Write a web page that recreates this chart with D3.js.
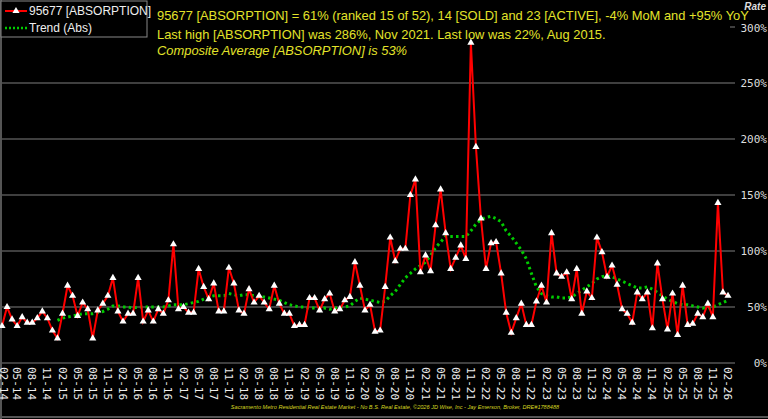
<!DOCTYPE html>
<html><head><meta charset="utf-8">
<script src="https://cdn.jsdelivr.net/npm/d3@7"></script>
<style>body{margin:0;background:#000}svg{display:block}</style>
</head><body>
<svg id="c" width="768" height="419"></svg>
<script>
const startMonth = "2014-02";
const absorption = [33,50,39,33,41,36,36,40,46,40,29,22,44,69,60,42,54,48,22,47,53,60,76,46,37,44,44,76,37,47,37,48,44,56,106,48,50,45,
45,84,68,57,71,46,46,85,71,47,44,66,54,60,54,48,69,53,44,44,33,34,34,58,58,47,57,62,46,48,56,59,90,69,47,52,28,29,68,112,91,102,102,150,164,81,96,82,123,155,116,84,94,105,93,286,193,129,84,107,108,80,45,27,40,53,34,34,55,69,54,116,80,77,81,57,84,44,64,58,112,99,77,87,70,48,44,36,63,57,63,31,89,57,30,62,25,69,34,35,44,41,53,41,143,63,60];
const trendStart = 11;
const trend = [38,40,41,42,43,44,44,44,45,46,48,51,51,50,50,49,50,50,50,50,50,50,51,52,52,52,53,54,55,57,59,60,60,60,62,61,60,61,61,60,59,59,58,57,56,54,52,51,50,50,49,49,49,49,48,49,50,50,51,55,58,57,56,55,54,55,60,64,70,76,80,84,87,90,96,103,108,113,113,113,113,113,118,124,128,130,131,129,126,118,113,107,101,93,80,68,62,60,59,59,58,58,59,62,65,68,71,75,77,78,77,75,73,71,69,67,67,68,66,63,60,57,55,53,52,52,51,50,49,49,50,52,54,56];
const yTicks = [0,50,100,150,200,250,300];
const titleLines = ["95677 [ABSORPTION] = 61% (ranked 15 of 52), 14 [SOLD] and 23 [ACTIVE], -4% MoM and +95% YoY",
 "Last high [ABSORPTION] was 286%, Nov 2021. Last low was 22%, Aug 2015.",
 "Composite Average [ABSORPTION] is 53%"];
const footer = "Sacramento Metro Residential Real Estate Market - No B.S. Real Estate, ©2026 JD Wise, Inc - Jay Emerson, Broker, DRE#1788488";

const svg = d3.select("#c");
const x = d3.scaleLinear().domain([0, absorption.length-1]).range([2, 728]);
const y = d3.scaleLinear().domain([0,300]).range([363, 27]);
const mono = "DejaVu Sans Mono";

svg.append("rect").attr("width",768).attr("height",419).attr("fill","#000");
// grid
svg.selectAll(".g").data(yTicks).join("line")
  .attr("x1",d=>d===300?730:0).attr("x2",735).attr("y1",d=>y(d)).attr("y2",d=>y(d))
  .attr("stroke","#555").attr("stroke-width",1.5);
svg.append("line").attr("x1",1).attr("x2",1).attr("y1",0).attr("y2",419).attr("stroke","#555").attr("stroke-width",2);
svg.append("line").attr("x1",0).attr("x2",768).attr("y1",417).attr("y2",417).attr("stroke","#555").attr("stroke-width",2);
// y labels
svg.selectAll(".yl").data(yTicks).join("text")
  .attr("x",767).attr("y",d=>y(d)+(d===300?5:4)).attr("text-anchor","end")
  .attr("font-family",mono).attr("font-size",11).attr("fill","#ddd")
  .text(d=>d+"%");
svg.append("text").attr("x",766).attr("y",10).attr("text-anchor","end")
  .attr("font-family","Liberation Sans").attr("font-size",10).attr("font-style","italic").attr("font-weight","bold")
  .attr("fill","#ddd").text("Rate");
// x labels
const fmt = d3.timeFormat("%m-%y");
const t0 = d3.timeParse("%Y-%m")(startMonth);
const idx = d3.range(0, absorption.length, 3);
svg.selectAll(".xl").data(idx).join("text")
  .attr("transform",d=>`translate(${Math.max(x(d)-4,0)},367) rotate(90)`)
  .attr("font-family",mono).attr("font-size",11).attr("fill","#eee")
  .text(d=>fmt(d3.timeMonth.offset(t0,d)));
// trend
const tl = d3.line().x((d,i)=>x(i+trendStart)).y(d=>y(d));
svg.append("path").attr("d",tl(trend)).attr("fill","none").attr("stroke","#0c0")
  .attr("stroke-width",3).attr("stroke-dasharray","2.5,3.2");
// main
const ml = d3.line().x((d,i)=>x(i)).y(d=>y(d));
svg.append("path").attr("d",ml(absorption)).attr("fill","none").attr("stroke","#f00").attr("stroke-width",2);
const tri = d3.symbol().type(d3.symbolTriangle).size(22);
svg.selectAll(".m").data(absorption).join("path")
  .attr("d",tri).attr("transform",(d,i)=>`translate(${x(i)},${y(d)})`).attr("fill","#fff");
// title
titleLines.forEach((t,i)=>{
  svg.append("text").attr("x",157).attr("y",[20,39,55][i])
    .attr("font-family","Liberation Sans").attr("font-size",12.9)
    .attr("font-style",i==2?"italic":"normal").attr("fill","#e3e32a").text(t);
});
// legend
const lg = svg.append("g");
lg.append("rect").attr("x",1).attr("y",1).attr("width",146).attr("height",36).attr("fill","#000").attr("stroke","#888");
lg.append("line").attr("x1",5).attr("x2",27).attr("y1",11).attr("y2",11).attr("stroke","#f00").attr("stroke-width",2);
lg.append("path").attr("d",tri).attr("transform","translate(16,11)").attr("fill","#fff");
lg.append("line").attr("x1",5).attr("x2",28).attr("y1",28).attr("y2",28).attr("stroke","#0c0").attr("stroke-width",2.5).attr("stroke-dasharray","2,2");
lg.append("text").attr("x",29).attr("y",15).attr("font-family","Liberation Sans").attr("font-size",12).attr("fill","#eee").text("95677 [ABSORPTION]");
lg.append("text").attr("x",29).attr("y",32).attr("font-family","Liberation Sans").attr("font-size",12).attr("fill","#eee").text("Trend (Abs)");
// footer
svg.append("text").attr("x",395).attr("y",409).attr("text-anchor","middle")
  .attr("font-family","Liberation Sans").attr("font-size",5.6).attr("font-style","italic").attr("fill","#d6d620").text(footer);
</script>
</body></html>
